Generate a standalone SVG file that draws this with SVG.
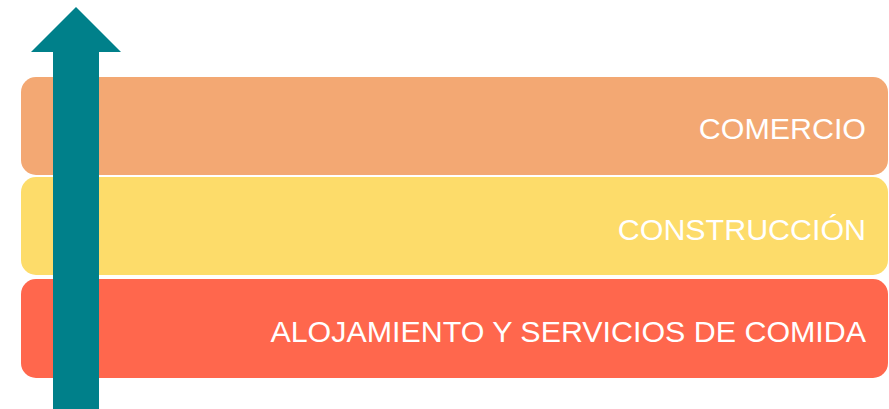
<svg xmlns="http://www.w3.org/2000/svg" width="889" height="409" viewBox="0 0 889 409">
<style>
.bar{stroke:none}
.lbl{font-family:"Liberation Sans",Arial,sans-serif;font-size:30.4px;fill:#ffffff;text-anchor:end}
</style>
<rect width="889" height="409" fill="#ffffff"/>
<g id="comercio">
<rect class="bar" x="21" y="77" width="867" height="98" rx="15" fill="#F3A873"/>
<text class="lbl" x="866" y="139">COMERCIO</text>
</g>
<g id="construccion">
<rect class="bar" x="21" y="177" width="867" height="98" rx="15" fill="#FDDC6A"/>
<text class="lbl" x="866" y="240">CONSTRUCCIÓN</text>
</g>
<g id="alojamiento">
<rect class="bar" x="21" y="279" width="867" height="99" rx="15" fill="#FF674D"/>
<text class="lbl" x="866" y="342">ALOJAMIENTO Y SERVICIOS DE COMIDA</text>
</g>
<g id="connectors">
<polygon points="53,409 53,52 31,52 76,7 121,52 99,52 99,409" fill="#00808A"/>
</g>
</svg>
